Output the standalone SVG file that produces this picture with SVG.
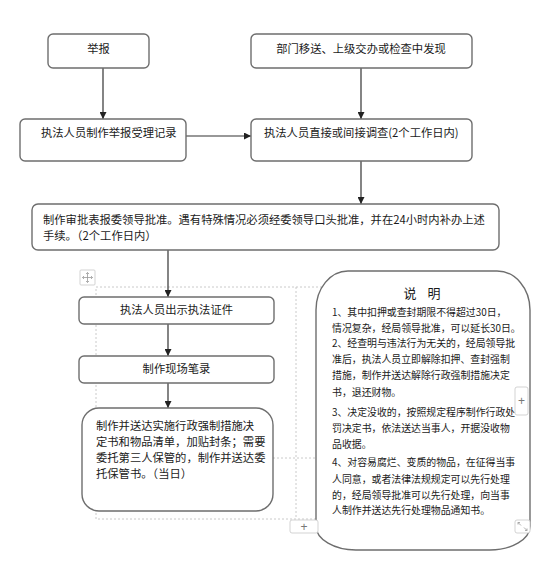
<svg xmlns="http://www.w3.org/2000/svg" width="554" height="577" viewBox="0 0 554 577">
<style>
.box{fill:#fff;stroke:#6e6e6e;stroke-width:1.4}
.t{font-family:"Noto Sans CJK SC","Liberation Sans",sans-serif;font-size:11.3px;fill:#1a1a1a}
.e{font-family:"Noto Sans CJK SC","Liberation Sans",sans-serif;font-size:9.9px;fill:#1a1a1a}
.c{stroke:#333;stroke-width:1.2;fill:none;marker-end:url(#ah)}
.d{stroke:#bdbdbd;stroke-width:0.8;stroke-dasharray:2 2;fill:none}
.btn{fill:#fff;stroke:#c8c8c8;stroke-width:0.8}
.bt{font-family:"Liberation Sans",sans-serif;font-size:12px;fill:#777}
</style>
<defs>
<marker id="ah" viewBox="0 0 10 10" refX="10" refY="5" markerWidth="7" markerHeight="7" markerUnits="userSpaceOnUse" orient="auto">
<path d="M0,0 L10,5 L0,10 Z" fill="#222"/>
</marker>
</defs>
<rect width="554" height="577" fill="#fff"/>

<g id="table-frame">
<rect class="d" x="96" y="287" width="418" height="232"/>
<line class="d" x1="296" y1="287" x2="296" y2="519"/>
<line class="d" x1="273" y1="458" x2="315" y2="458"/>
</g>

<g id="connectors">
<line class="c" x1="103" y1="68" x2="103" y2="119"/>
<line class="c" x1="361" y1="68" x2="361" y2="119"/>
<line class="c" x1="186" y1="136" x2="251" y2="136"/>
<line class="c" x1="361" y1="161" x2="361" y2="204"/>
<line class="c" x1="168" y1="250" x2="168" y2="297"/>
<line class="c" x1="168" y1="324" x2="168" y2="356"/>
<line class="c" x1="168" y1="383" x2="168" y2="408"/>
</g>

<g id="n-jubao">
<rect class="box" x="48" y="34" width="101" height="34" rx="5"/>
<text class="t" x="98.5" y="53" text-anchor="middle">举报</text>
</g>
<g id="n-bumen">
<rect class="box" x="251" y="34" width="221" height="34" rx="5"/>
<text class="t" x="361" y="53" text-anchor="middle">部门移送、上级交办或检查中发现</text>
</g>
<g id="n-jilu">
<rect class="box" x="20" y="119" width="166" height="42" rx="5"/>
<text class="t" x="41" y="137">执法人员制作举报受理记录</text>
</g>
<g id="n-diaocha">
<rect class="box" x="251" y="119" width="221" height="42" rx="5"/>
<text class="t" x="264" y="137">执法人员直接或间接调查(2个工作日内)</text>
</g>
<g id="n-shenpi">
<rect class="box" x="32" y="204" width="467" height="46" rx="6"/>
<text class="t" x="43" y="224">制作审批表报委领导批准。遇有特殊情况必须经委领导口头批准，并在24小时内补办上述</text>
<text class="t" x="43" y="240">手续。（2个工作日内）</text>
</g>
<g id="n-zhengjian">
<rect class="box" x="79" y="297" width="195" height="27" rx="5"/>
<text class="t" x="176.5" y="314" text-anchor="middle">执法人员出示执法证件</text>
</g>
<g id="n-bilu">
<rect class="box" x="79" y="356" width="195" height="27" rx="5"/>
<text class="t" x="176.5" y="373" text-anchor="middle">制作现场笔录</text>
</g>
<g id="n-songda">
<rect class="box" x="82" y="408" width="191" height="103" rx="17"/>
<text class="t" x="96" y="430">制作并送达实施行政强制措施决</text>
<text class="t" x="96" y="446">定书和物品清单，加贴封条；需要</text>
<text class="t" x="96" y="462">委托第三人保管的，制作并送达委</text>
<text class="t" x="96" y="478">托保管书。（当日）</text>
</g>
<g id="n-shuoming">
<path class="box" d="M348 271 H497 A33 39 0 0 1 530 310 V526 A40 24 0 0 1 490 550 H357 A40 24 0 0 1 316 526 V310 A32 39 0 0 1 348 271 Z"/>
<text x="422" y="298" text-anchor="middle" font-family="'Noto Sans CJK SC',sans-serif" font-size="13" word-spacing="8" fill="#1a1a1a">说 明</text>
<text class="e" x="332" y="316">1、其中扣押或查封期限不得超过30日，</text>
<text class="e" x="332" y="332">情况复杂，经局领导批准，可以延长30日。</text>
<text class="e" x="332" y="347">2、经查明与违法行为无关的，经局领导批</text>
<text class="e" x="332" y="363">准后，执法人员立即解除扣押、查封强制</text>
<text class="e" x="332" y="379">措施，制作并送达解除行政强制措施决定</text>
<text class="e" x="332" y="396">书，退还财物。</text>
<text class="e" x="332" y="416">3、决定没收的，按照规定程序制作行政处</text>
<text class="e" x="332" y="432">罚决定书，依法送达当事人，开据没收物</text>
<text class="e" x="332" y="448">品收据。</text>
<text class="e" x="332" y="466">4、对容易腐烂、变质的物品，在征得当事</text>
<text class="e" x="332" y="483">人同意，或者法律法规规定可以先行处理</text>
<text class="e" x="332" y="499">的，经局领导批准可以先行处理，向当事</text>
<text class="e" x="332" y="514">人制作并送达先行处理物品通知书。</text>
</g>

<g id="editor-handles">
<rect class="btn" x="80" y="270" width="15" height="15" rx="1"/>
<g stroke="#999" stroke-width="0.8" fill="none">
<line x1="87.5" y1="272.5" x2="87.5" y2="282.5"/>
<line x1="82.5" y1="277.5" x2="92.5" y2="277.5"/>
<path d="M86 274 L87.5 272.5 L89 274 M86 281 L87.5 282.5 L89 281 M84 276 L82.5 277.5 L84 279 M91 276 L92.5 277.5 L91 279"/>
</g>
<rect class="btn" x="515" y="387" width="13" height="28" rx="2"/>
<text class="bt" x="521.5" y="405" text-anchor="middle">+</text>
<rect class="btn" x="290" y="520" width="28" height="13" rx="2"/>
<text class="bt" x="304" y="531" text-anchor="middle">+</text>
<rect class="btn" x="515" y="520" width="15" height="13" rx="2"/>
<g stroke="#999" stroke-width="0.8" fill="none">
<path d="M518 522.5 L521 525.5 M518 522.5 V524.5 M518 522.5 H520"/>
<path d="M527 530.5 L524 527.5 M527 530.5 V528.5 M527 530.5 H525"/>
</g>
</g>
</svg>
